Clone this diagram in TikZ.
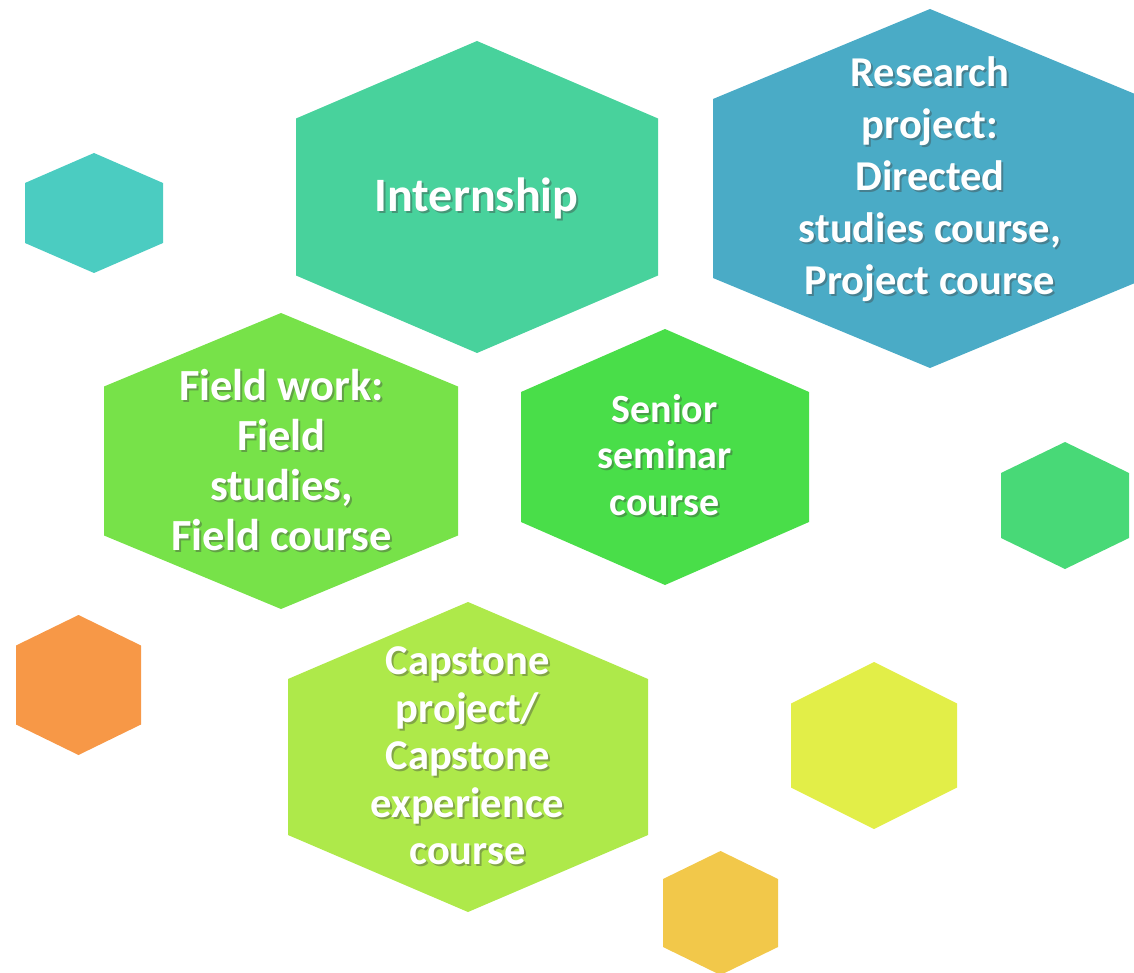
\documentclass[tikz,border=0pt]{standalone}
\usepackage{fontspec}
\setmainfont{Carlito}
\usepackage{tikz}

\definecolor{tealhex}{HTML}{4BCCC1}
\definecolor{internhex}{HTML}{48D29C}
\definecolor{researchhex}{HTML}{4AABC6}
\definecolor{fieldhex}{HTML}{77E249}
\definecolor{seniorhex}{HTML}{49DE49}
\definecolor{greenhex}{HTML}{48D977}
\definecolor{orangehex}{HTML}{F79847}
\definecolor{capstonehex}{HTML}{AEE94A}
\definecolor{yellowhex}{HTML}{E2EE48}
\definecolor{goldhex}{HTML}{F2C84A}

\begin{document}
\begin{tikzpicture}[x=1pt, y=-1pt,
    hexlabel/.style={align=center, text=white, inner sep=0pt},
    hexshadow/.style={align=center, text=black!75, opacity=0.4, inner sep=0pt}]

    \clip (0,0) rectangle (1134,973);

    % Hexagons: centre x / centre y / half width / half height / side / colour
    \foreach \cx/\cy/\hw/\hh/\s/\col in {
        94/213/69/60/30/tealhex,
        477/197/181/156/78.5/internhex,
        930/188.5/217/179.5/89.5/researchhex,
        281/461/177/148/74.5/fieldhex,
        665/457/144/128/65/seniorhex,
        1065/505.5/64/63.5/32.5/greenhex,
        78.5/685/62.5/70/39.5/orangehex,
        468/757/180/155/78/capstonehex,
        874/745.5/83/83.5/42/yellowhex,
        720.5/913/57.5/62/34/goldhex}
    {
        \fill[\col] (\cx,\cy-\hh) -- (\cx+\hw,\cy-\s) -- (\cx+\hw,\cy+\s)
            -- (\cx,\cy+\hh) -- (\cx-\hw,\cy+\s) -- (\cx-\hw,\cy-\s) -- cycle;
    }

    % Internship
    \node[hexshadow, font={\fontsize{48}{56}\selectfont\bfseries}] (intern-s) at (478.5,200.5) {Internship};
    \node[hexlabel, font={\fontsize{48}{56}\selectfont\bfseries}] (intern) at (476.5,198.5) {Internship};

    % Research project
    \node[hexshadow, font={\fontsize{42.5}{52}\selectfont\bfseries}] (research-s) at (932,181) {Research\\project:\\Directed\\studies course,\\Project course};
    \node[hexlabel, font={\fontsize{42.5}{52}\selectfont\bfseries}] (research) at (930,179) {Research\\project:\\Directed\\studies course,\\Project course};

    % Field work
    \node[hexshadow, font={\fontsize{44.5}{50}\selectfont\bfseries}] (field-s) at (283.5,462) {Field work:\\Field\\studies,\\Field course};
    \node[hexlabel, font={\fontsize{44.5}{50}\selectfont\bfseries}] (field) at (281.5,460) {Field work:\\Field\\studies,\\Field course};

    % Senior seminar
    \node[hexshadow, font={\fontsize{40}{46.5}\selectfont\bfseries}] (senior-s) at (666.5,457) {Senior\\seminar\\course};
    \node[hexlabel, font={\fontsize{40}{46.5}\selectfont\bfseries}] (senior) at (664.5,455) {Senior\\seminar\\course};

    % Capstone
    \node[hexshadow, font={\fontsize{42.5}{47.5}\selectfont\bfseries}] (capstone-s) at (469.5,758) {Capstone\\project/\\Capstone\\experience\\course};
    \node[hexlabel, font={\fontsize{42.5}{47.5}\selectfont\bfseries}] (capstone) at (467.5,756) {Capstone\\project/\\Capstone\\experience\\course};
\end{tikzpicture}
\end{document}
